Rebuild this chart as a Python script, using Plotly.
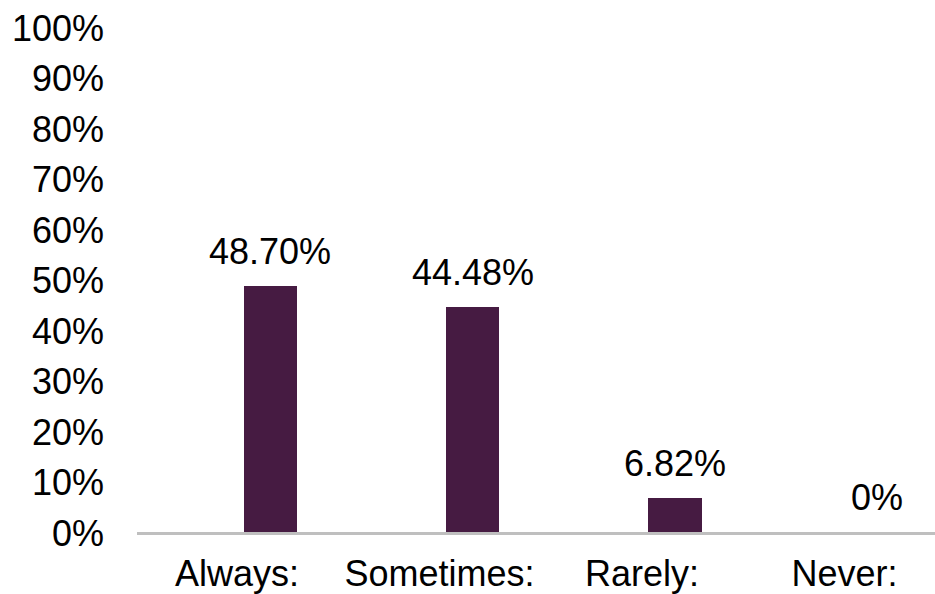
import plotly.graph_objects as go

# Survey responses: share of respondents per frequency answer
categories = ["Always:", "Sometimes:", "Rarely:", "Never:"]
shares = [0.4870, 0.4448, 0.0682, 0.0]
value_labels = ["48.70%", "44.48%", "6.82%", "0%"]
y_ticks = [i / 10 for i in range(11)]
y_tick_labels = [f"{i * 10}%" for i in range(11)]

positions = list(range(len(categories)))

FONT = "Arial, Liberation Sans, sans-serif"
BAR_COLOR = "#461b42"

fig = go.Figure(
    go.Bar(
        x=positions,
        y=shares,
        width=0.262,
        marker=dict(color=BAR_COLOR, line=dict(width=0)),
        hoverinfo="skip",
    )
)

# Value labels sit just above each bar top
for pos, val, lab in zip(positions, shares, value_labels):
    fig.add_annotation(
        x=pos,
        y=val,
        text=lab,
        showarrow=False,
        xanchor="center",
        yanchor="bottom",
        yshift=12,
        font=dict(family=FONT, size=36, color="#000000"),
    )

fig.update_layout(
    width=935,
    height=594,
    margin=dict(l=137, r=0, t=27, b=62, autoexpand=False),
    paper_bgcolor="white",
    plot_bgcolor="white",
    showlegend=False,
    font=dict(family=FONT, size=36, color="#000000"),
    bargap=0,
)

fig.update_xaxes(
    range=[-0.657, 3.284],
    tickvals=positions,
    ticktext=categories,
    showgrid=False,
    zeroline=False,
    showline=True,
    linecolor="#bfbfbf",
    linewidth=3,
    ticks="",
    automargin=False,
    ticklabelstandoff=8,
    ticklabelshift=-33,
    tickfont=dict(family=FONT, size=36, color="#000000"),
)

fig.update_yaxes(
    range=[0, 1],
    tickvals=y_ticks,
    ticktext=y_tick_labels,
    showgrid=False,
    zeroline=False,
    showline=False,
    ticks="",
    automargin=False,
    ticklabelstandoff=32,
    ticklabelshift=1,
    tickfont=dict(family=FONT, size=36, color="#000000"),
)

fig.write_html("out.html")
